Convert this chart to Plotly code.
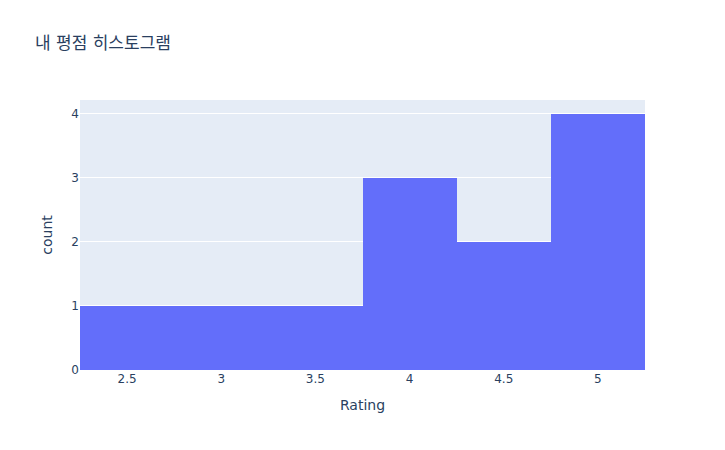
import plotly.graph_objects as go

ratings = [2.5, 3, 3.5, 4, 4, 4, 4.5, 4.5, 5, 5, 5, 5]

fig = go.Figure(go.Histogram(x=ratings, xbins=dict(start=2.25, end=5.25, size=0.5),
                             marker_color="#636efa"))
fig.update_layout(width=717, height=442,
                  margin=dict(l=72, r=80, t=92, b=80),
                  font=dict(family="DejaVu Sans, Noto Sans CJK KR, sans-serif"),
                  title=dict(text="내 평점 히스토그램", x=27/717, xanchor="left",
                             y=1 - 35/442, yanchor="middle"),
                  xaxis_title="Rating", yaxis_title="count", bargap=0)
fig.write_html("out.html")
